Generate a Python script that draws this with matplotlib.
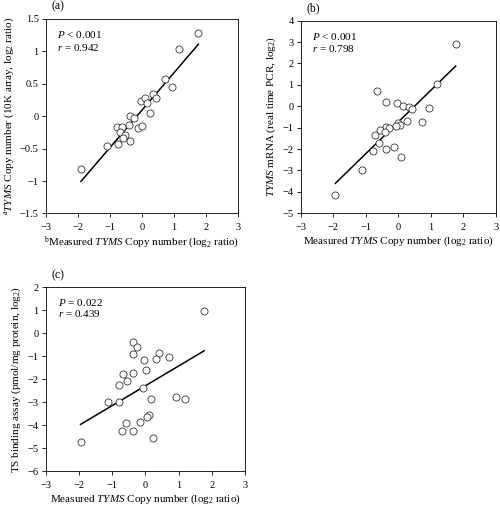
import numpy as np
import matplotlib
matplotlib.use("Agg")
import matplotlib.pyplot as plt
from matplotlib.ticker import FuncFormatter

# Panel (a): 10K array vs measured copy number
a_x = [-1.90, 1.76, 1.16, 0.72, 0.93, 0.34, 0.43, -0.03, 0.11, 0.16, 0.25,
       -0.37, -0.24, -0.39, -0.78, -0.63, -0.13, 0.01, -0.68, -0.54, -0.37,
       -0.74, -1.10, -0.58]
a_y = [-0.82, 1.28, 1.04, 0.57, 0.45, 0.35, 0.28, 0.24, 0.28, 0.21, 0.05,
       0.01, -0.02, -0.13, -0.16, -0.16, -0.18, -0.15, -0.24, -0.29, -0.39,
       -0.43, -0.46, -0.33]
a_fit = (0.578, 0.093)

# Panel (b): real time PCR mRNA vs measured copy number
b_x = [-1.93, -1.11, 1.77, 1.19, -0.65, -0.37, -0.04, 0.16, 0.32, 0.42,
       0.94, 0.72, 0.27, -0.01, 0.07, -0.08, -0.37, -0.27, -0.56, -0.40,
       -0.70, -0.58, -0.14, -0.39, -0.78, 0.09]
b_y = [-4.15, -3.00, 2.90, 1.06, 0.70, 0.19, 0.16, 0.00, -0.05, -0.14,
       -0.09, -0.73, -0.70, -0.78, -0.87, -0.90, -0.96, -1.02, -1.09, -1.21,
       -1.35, -1.71, -1.91, -1.99, -2.07, -2.36]
b_fit = (1.48, -0.74)

# Panel (c): TS binding assay vs measured copy number
c_x = [-1.95, 1.77, -0.37, -0.25, -0.37, 0.42, 0.33, 0.70, -0.04, 0.01,
       -0.66, -0.37, -0.78, -0.55, -0.06, 0.16, 0.91, 1.18, -1.12, -0.80,
       0.10, 0.05, -0.59, -0.16, -0.70, -0.37, 0.24]
c_y = [-4.74, 0.98, -0.36, -0.62, -0.91, -0.87, -1.14, -1.04, -1.16, -1.59,
       -1.78, -1.75, -2.24, -2.10, -2.38, -2.86, -2.79, -2.86, -3.01, -3.01,
       -3.57, -3.65, -3.90, -3.87, -4.25, -4.25, -4.57]
c_fit = (0.862, -2.29)

X_TICKS = [-3, -2, -1, 0, 1, 2, 3]


def set_style():
    plt.rcParams.update({
        "font.family": ["Liberation Serif", "DejaVu Serif"],
        "mathtext.fontset": "custom",
        "mathtext.rm": "Liberation Serif",
        "mathtext.it": "Liberation Serif:italic",
        "font.size": 8, "xtick.labelsize": 7.5, "ytick.labelsize": 7.5,
        "axes.linewidth": 0.6, "xtick.major.width": 0.6, "ytick.major.width": 0.6,
        "xtick.major.size": 3, "ytick.major.size": 3,
        "xtick.major.pad": 4, "ytick.major.pad": 2,
        "axes.unicode_minus": True,
    })


def fmt(v, _):
    s = "%g" % v
    return s.replace("-", "\u2212")


def panel(ax, x, y, fit, ylim, yticks, ylabel, xlabel, letter, stats):
    x = np.asarray(x)
    ax.scatter(x, y, s=26, facecolors="white", edgecolors="#333333",
               linewidths=0.6, zorder=3)
    xs = np.array([x.min(), x.max()])
    ax.plot(xs, fit[0] * xs + fit[1], color="black", lw=1.1, zorder=2)
    ax.set_xlim(-3, 3)
    ax.set_ylim(*ylim)
    ax.set_xticks(X_TICKS)
    ax.set_yticks(yticks)
    ax.xaxis.set_major_formatter(FuncFormatter(fmt))
    ax.yaxis.set_major_formatter(FuncFormatter(fmt))
    ax.set_xlabel(xlabel, labelpad=2)
    ax.set_ylabel(ylabel, labelpad=3)
    ax.text(0.03, 1.035, letter, transform=ax.transAxes, fontsize=8.5,
            ha="left", va="bottom")
    ax.text(0.06, 0.92, stats[0], transform=ax.transAxes, va="center")
    ax.text(0.06, 0.855, stats[1], transform=ax.transAxes, va="center")


set_style()
fig = plt.figure(figsize=(5.0, 5.07), dpi=100)
ax_a = fig.add_axes([0.0914, 0.579, 0.385, 0.3836])
ax_b = fig.add_axes([0.6014, 0.5793, 0.39, 0.380])
ax_c = fig.add_axes([0.0914, 0.071, 0.3986, 0.3623])

xlab = r"Measured $\it{TYMS}$ Copy number (log$_2$ ratio)"
panel(ax_a, a_x, a_y, a_fit, (-1.5, 1.5), np.arange(-1.5, 1.51, 0.5),
      r"$^{\rm a}$$\it{TYMS}$ Copy number (10K array, log$_2$ ratio)",
      r"$^{\rm b}$" + xlab, "(a)",
      (r"$\it{P}$ < 0.001", r"$\it{r}$ = 0.942"))
panel(ax_b, b_x, b_y, b_fit, (-5, 4), np.arange(-5, 5),
      r"$\it{TYMS}$ mRNA (real time PCR, log$_2$)", xlab, "(b)",
      (r"$\it{P}$ < 0.001", r"$\it{r}$ = 0.798"))
panel(ax_c, c_x, c_y, c_fit, (-6, 2), np.arange(-6, 3),
      r"TS binding assay (pmol/mg protein, log$_2$)", xlab, "(c)",
      (r"$\it{P}$ = 0.022", r"$\it{r}$ = 0.439"))

fig.savefig("out.png", dpi=100, facecolor="white")
